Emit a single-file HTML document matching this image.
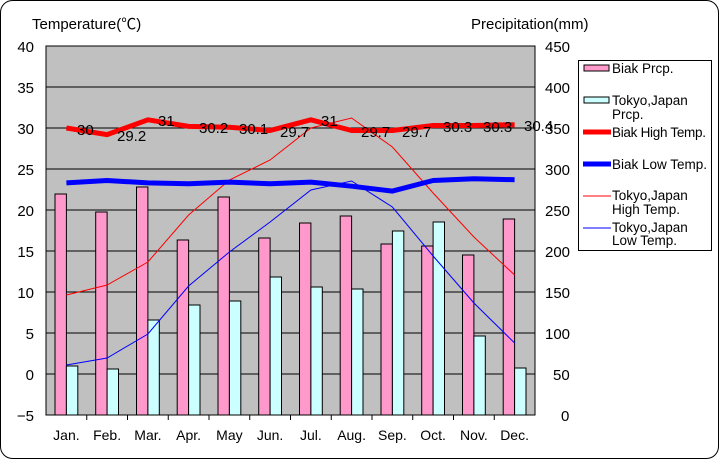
<!DOCTYPE html>
<html><head><meta charset="utf-8"><style>
body{margin:0;background:#fff}
svg{display:block;font-family:"Liberation Sans","Noto Sans CJK JP",sans-serif}
</style></head><body>
<svg width="720" height="460" viewBox="0 0 720 460" xmlns="http://www.w3.org/2000/svg">
<rect x="0.5" y="0.5" width="718" height="458" rx="12" fill="#fff" stroke="#000"/>
<text x="32" y="29" font-size="15">Temperature(℃)</text>
<text x="471" y="29" font-size="15">Precipitation(mm)</text>
<rect x="46" y="46" width="489" height="369" fill="#c0c0c0" stroke="#000"/>
<g stroke="#000" stroke-width="1">
<line x1="46" y1="87" x2="535" y2="87"/><line x1="46" y1="128" x2="535" y2="128"/>
<line x1="46" y1="169" x2="535" y2="169"/><line x1="46" y1="210" x2="535" y2="210"/>
<line x1="46" y1="251" x2="535" y2="251"/><line x1="46" y1="292" x2="535" y2="292"/>
<line x1="46" y1="333" x2="535" y2="333"/><line x1="46" y1="374" x2="535" y2="374"/>
</g>
<g font-size="15" text-anchor="end">
<text x="34" y="52">40</text><text x="34" y="93">35</text><text x="34" y="134">30</text>
<text x="34" y="175">25</text><text x="34" y="216">20</text><text x="34" y="257">15</text>
<text x="34" y="298">10</text><text x="34" y="339">5</text><text x="34" y="380">0</text>
<text x="34" y="421">−5</text>
</g>
<g font-size="15">
<text x="545" y="52">450</text><text x="545" y="93">400</text><text x="545" y="134">350</text>
<text x="545" y="175">300</text><text x="545" y="216">250</text><text x="545" y="257">200</text>
<text x="545" y="298">150</text><text x="545" y="339">100</text><text x="553" y="380">50</text>
<text x="561" y="421">0</text>
</g>
<g stroke="#000" stroke-width="1">
<rect x="55" y="194" width="11.4" height="221" fill="#ff99cc"/><rect x="66.4" y="366" width="11.4" height="49" fill="#ccffff"/>
<rect x="95.7" y="212" width="11.4" height="203" fill="#ff99cc"/><rect x="107.1" y="369" width="11.4" height="46" fill="#ccffff"/>
<rect x="136.5" y="187" width="11.4" height="228" fill="#ff99cc"/><rect x="147.9" y="320" width="11.4" height="95" fill="#ccffff"/>
<rect x="177.2" y="240" width="11.4" height="175" fill="#ff99cc"/><rect x="188.6" y="305" width="11.4" height="110" fill="#ccffff"/>
<rect x="218" y="197" width="11.4" height="218" fill="#ff99cc"/><rect x="229.4" y="301" width="11.4" height="114" fill="#ccffff"/>
<rect x="258.7" y="238" width="11.4" height="177" fill="#ff99cc"/><rect x="270.1" y="277" width="11.4" height="138" fill="#ccffff"/>
<rect x="299.5" y="223" width="11.4" height="192" fill="#ff99cc"/><rect x="310.9" y="287" width="11.4" height="128" fill="#ccffff"/>
<rect x="340.2" y="216" width="11.4" height="199" fill="#ff99cc"/><rect x="351.6" y="289" width="11.4" height="126" fill="#ccffff"/>
<rect x="381" y="244" width="11.4" height="171" fill="#ff99cc"/><rect x="392.4" y="231" width="11.4" height="184" fill="#ccffff"/>
<rect x="421.7" y="246" width="11.4" height="169" fill="#ff99cc"/><rect x="433.1" y="222" width="11.4" height="193" fill="#ccffff"/>
<rect x="462.5" y="255" width="11.4" height="160" fill="#ff99cc"/><rect x="473.9" y="336" width="11.4" height="79" fill="#ccffff"/>
<rect x="503.2" y="219" width="11.4" height="196" fill="#ff99cc"/><rect x="514.6" y="368" width="11.4" height="47" fill="#ccffff"/>
</g>
<g stroke="#000">
<line x1="86.75" y1="415" x2="86.75" y2="420"/><line x1="127.5" y1="415" x2="127.5" y2="420"/>
<line x1="168.25" y1="415" x2="168.25" y2="420"/><line x1="209" y1="415" x2="209" y2="420"/>
<line x1="249.75" y1="415" x2="249.75" y2="420"/><line x1="290.5" y1="415" x2="290.5" y2="420"/>
<line x1="331.25" y1="415" x2="331.25" y2="420"/><line x1="372" y1="415" x2="372" y2="420"/>
<line x1="412.75" y1="415" x2="412.75" y2="420"/><line x1="453.5" y1="415" x2="453.5" y2="420"/>
<line x1="494.25" y1="415" x2="494.25" y2="420"/>
</g>
<polyline fill="none" stroke="#ff0000" stroke-width="1" points="66.4,295 107.1,285 147.9,262 188.6,215 229.4,180 270.1,160 310.9,128 351.6,118 392.4,147 433.1,193 473.9,237 514.6,275"/>
<polyline fill="none" stroke="#0000ff" stroke-width="1" points="66.4,365 107.1,358 147.9,334 188.6,286 229.4,252 270.1,222 310.9,190 351.6,181 392.4,207 433.1,256 473.9,303 514.6,343"/>
<polyline fill="none" stroke="#ff0000" stroke-width="5" stroke-linejoin="round" points="66.4,128 107.1,134.6 147.9,119.8 188.6,126.4 229.4,127.2 270.1,130.5 310.9,119.8 351.6,130.5 392.4,130.5 433.1,125.5 473.9,125.5 514.6,124.7"/>
<polyline fill="none" stroke="#0000ff" stroke-width="5" stroke-linejoin="round" points="66.4,182.9 107.1,180.5 147.9,182.9 188.6,183.8 229.4,182.1 270.1,183.8 310.9,182.1 351.6,186.2 392.4,191.1 433.1,180.5 473.9,178.8 514.6,179.7"/>
<g font-size="15">
<text x="77" y="135">30</text><text x="117" y="141">29.2</text><text x="158" y="126">31</text>
<text x="199" y="133">30.2</text><text x="239" y="134">30.1</text><text x="280" y="137">29.7</text>
<text x="321" y="126">31</text><text x="361" y="137">29.7</text><text x="402" y="137">29.7</text>
<text x="443" y="132">30.3</text><text x="483" y="132">30.3</text><text x="524" y="131">30.4</text>
</g>
<g font-size="14" text-anchor="middle">
<text x="66.4" y="440">Jan.</text><text x="107.1" y="440">Feb.</text><text x="147.9" y="440">Mar.</text>
<text x="188.6" y="440">Apr.</text><text x="229.4" y="440">May</text><text x="270.1" y="440">Jun.</text>
<text x="310.9" y="440">Jul.</text><text x="351.6" y="440">Aug.</text><text x="392.4" y="440">Sep.</text>
<text x="433.1" y="440">Oct.</text><text x="473.9" y="440">Nov.</text><text x="514.6" y="440">Dec.</text>
</g>
<rect x="578.5" y="60.5" width="133" height="190" fill="#fff" stroke="#000"/>
<g font-size="13.5">
<rect x="584" y="65" width="25" height="6" fill="#ff99cc" stroke="#000"/><text x="612" y="73">Biak Prcp.</text>
<rect x="584" y="97" width="25" height="6" fill="#ccffff" stroke="#000"/><text x="612" y="105">Tokyo,Japan</text><text x="612" y="119">Prcp.</text>
<line x1="583" y1="132" x2="611" y2="132" stroke="#ff0000" stroke-width="5"/><text x="612" y="137" textLength="94">Biak High Temp.</text>
<line x1="583" y1="164" x2="611" y2="164" stroke="#0000ff" stroke-width="5"/><text x="612" y="169">Biak Low Temp.</text>
<line x1="583" y1="196" x2="611" y2="196" stroke="#ff0000" stroke-width="1"/><text x="612" y="200">Tokyo,Japan</text><text x="612" y="214">High Temp.</text>
<line x1="583" y1="228" x2="611" y2="228" stroke="#0000ff" stroke-width="1"/><text x="612" y="232">Tokyo,Japan</text><text x="612" y="245">Low Temp.</text>
</g>
</svg>
</body></html>
